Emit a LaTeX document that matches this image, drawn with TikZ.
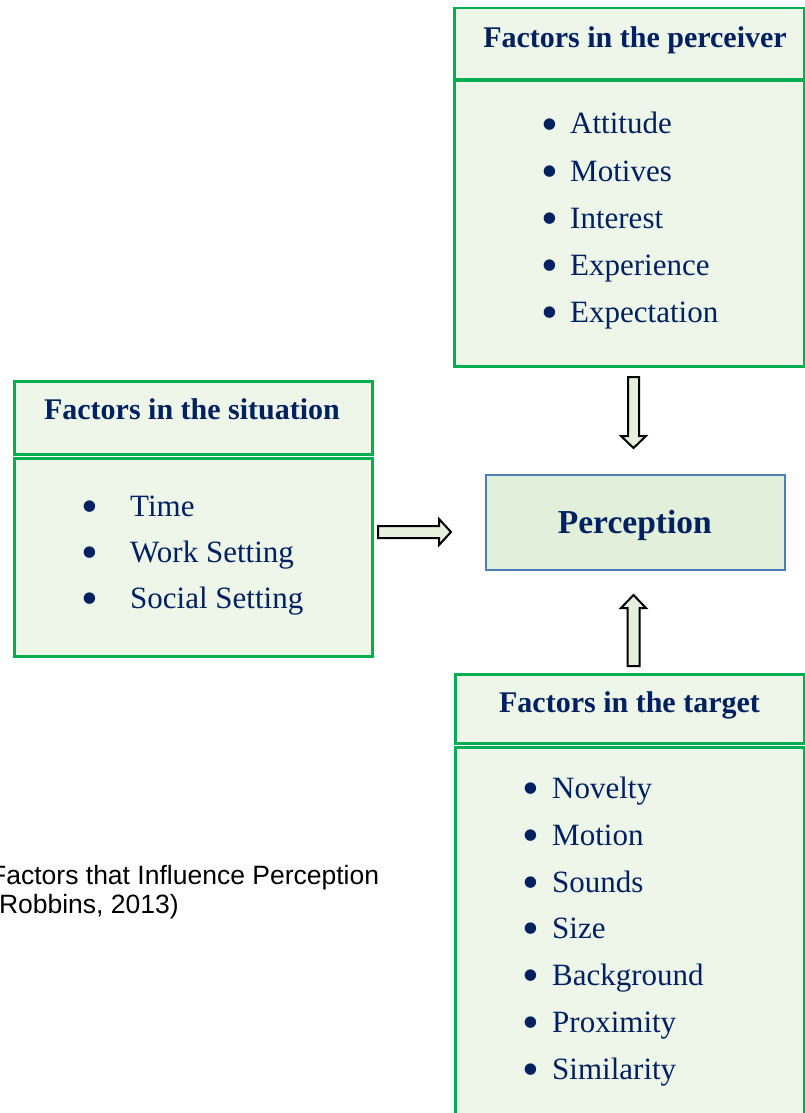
\documentclass[tikz,border=0pt]{standalone}
\usepackage{fontspec}
\setmainfont{Liberation Serif}
\newfontfamily\capfont{Liberation Sans}
\definecolor{gline}{HTML}{00B050}
\definecolor{bfill}{HTML}{EEF6EA}
\definecolor{pfill}{HTML}{E2EFDA}
\definecolor{pline}{HTML}{4F7DB8}
\definecolor{navy}{HTML}{002060}
\definecolor{afill}{HTML}{E6F0DC}
\newcommand{\bigbul}{\raisebox{-6.5pt}{\fontsize{48}{48}\selectfont\textbullet}}
\tikzset{
  gbox/.style={draw=gline, line width=2.5pt, fill=bfill, anchor=north west, inner sep=0pt},
  pbox/.style={draw=pline, line width=1.6pt, fill=pfill, anchor=north west, inner sep=0pt},
  title/.style={anchor=base, inner sep=0pt, text=navy, font=\fontsize{30}{36}\selectfont\bfseries},
  item/.style={anchor=base west, inner sep=0pt, text=navy, font=\fontsize{31}{37}\selectfont},
  blockarrow/.style={draw=black, line width=2pt, fill=afill, line join=miter},
  captext/.style={anchor=base west, inner sep=0pt, text=black, font=\capfont\fontsize{26.5}{30}\selectfont}
}
\begin{document}
\begin{tikzpicture}[x=1pt,y=-1pt]
\useasboundingbox (0,0) rectangle (804,1113);
% perceiver
\node[gbox, minimum width=350pt, minimum height=71pt] (perH) at (453,7) {};
\node[gbox, minimum width=350pt, minimum height=285pt] (perB) at (453,80) {};
\node[title] (perT) at (635,48) {Factors in the perceiver};
\node[item] (p1) at (541.5,134) {\makebox[28.5pt][l]{\bigbul}Attitude};
\node[item] (p2) at (541.5,181) {\makebox[28.5pt][l]{\bigbul}Motives};
\node[item] (p3) at (541.5,228) {\makebox[28.5pt][l]{\bigbul}Interest};
\node[item] (p4) at (541.5,275) {\makebox[28.5pt][l]{\bigbul}Experience};
\node[item] (p5) at (541.5,322) {\makebox[28.5pt][l]{\bigbul}Expectation};
% situation
\node[gbox, minimum width=358pt, minimum height=73pt] (sitH) at (13,380) {};
\node[gbox, minimum width=358pt, minimum height=198pt] (sitB) at (13,457) {};
\node[title] (sitT) at (192,419) {Factors in the situation};
\node[item] (s1) at (81.5,516) {\makebox[48.5pt][l]{\bigbul}Time};
\node[item] (s2) at (81.5,562) {\makebox[48.5pt][l]{\bigbul}Work Setting};
\node[item] (s3) at (81.5,608) {\makebox[48.5pt][l]{\bigbul}Social Setting};
% target
\node[gbox, minimum width=349pt, minimum height=69pt] (tarH) at (454,673) {};
\node[gbox, minimum width=349pt, minimum height=390pt] (tarB) at (454,746) {};
\node[title] (tarT) at (629.5,712) {Factors in the target};
\node[item] (t1) at (522.5,798) {\makebox[29.5pt][l]{\bigbul}Novelty};
\node[item] (t2) at (522.5,845) {\makebox[29.5pt][l]{\bigbul}Motion};
\node[item] (t3) at (522.5,892) {\makebox[29.5pt][l]{\bigbul}Sounds};
\node[item] (t4) at (522.5,938) {\makebox[29.5pt][l]{\bigbul}Size};
\node[item] (t5) at (522.5,985) {\makebox[29.5pt][l]{\bigbul}Background};
\node[item] (t6) at (522.5,1032) {\makebox[29.5pt][l]{\bigbul}Proximity};
\node[item] (t7) at (522.5,1079) {\makebox[29.5pt][l]{\bigbul}Similarity};
% perception
\node[pbox, minimum width=299pt, minimum height=95pt] (perc) at (485,474) {};
\node[anchor=base, inner sep=0pt, text=navy, font=\fontsize{33.5}{40}\selectfont\bfseries] (percT) at (634.8,533) {Perception};
% block arrows
\draw[blockarrow] (628,377) -- (639,377) -- (639,436) -- (646,436) -- (633.5,448) -- (621,436) -- (628,436) -- cycle;
\draw[blockarrow] (378,526) -- (439,526) -- (439,519) -- (451,532) -- (439,545) -- (439,538) -- (378,538) -- cycle;
\draw[blockarrow] (627.5,666) -- (627.5,608) -- (621,608) -- (633.5,595) -- (646,608) -- (639.5,608) -- (639.5,666) -- cycle;
% caption
\node[captext] (cap1) at (-10,884) {Factors that Influence Perception};
\node[captext] (cap2) at (-10,913) {(Robbins, 2013)};
\end{tikzpicture}
\end{document}
